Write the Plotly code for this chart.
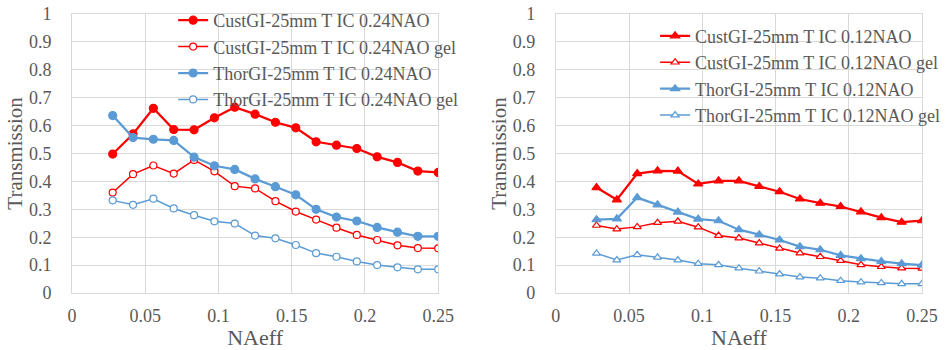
import plotly.graph_objects as go
from plotly.subplots import make_subplots

na_eff = [k * 0.25 / 18 for k in range(2, 19)]

cust_024 = [0.498, 0.570, 0.662, 0.586, 0.585, 0.628, 0.666, 0.641, 0.612, 0.592, 0.542, 0.530, 0.518, 0.488, 0.468, 0.437, 0.432]
cust_024_gel = [0.360, 0.426, 0.457, 0.428, 0.477, 0.436, 0.383, 0.375, 0.329, 0.292, 0.263, 0.234, 0.208, 0.190, 0.171, 0.161, 0.160]
thor_024 = [0.636, 0.557, 0.551, 0.547, 0.487, 0.456, 0.443, 0.409, 0.381, 0.352, 0.300, 0.272, 0.258, 0.235, 0.218, 0.203, 0.203]
thor_024_gel = [0.332, 0.316, 0.338, 0.303, 0.279, 0.257, 0.249, 0.206, 0.196, 0.172, 0.143, 0.130, 0.113, 0.100, 0.092, 0.085, 0.085]

cust_012 = [0.378, 0.334, 0.428, 0.438, 0.437, 0.391, 0.402, 0.402, 0.382, 0.363, 0.337, 0.322, 0.310, 0.291, 0.270, 0.254, 0.259]
cust_012_gel = [0.242, 0.229, 0.237, 0.252, 0.257, 0.236, 0.206, 0.197, 0.179, 0.160, 0.143, 0.130, 0.116, 0.101, 0.094, 0.089, 0.088]
thor_012 = [0.263, 0.266, 0.342, 0.316, 0.290, 0.265, 0.259, 0.227, 0.209, 0.190, 0.166, 0.155, 0.135, 0.123, 0.113, 0.105, 0.100]
thor_012_gel = [0.142, 0.118, 0.137, 0.128, 0.118, 0.105, 0.101, 0.089, 0.078, 0.068, 0.057, 0.053, 0.044, 0.039, 0.036, 0.033, 0.033]

x_ticks = [0, 0.05, 0.1, 0.15, 0.2, 0.25]
x_tick_labels = ["0", "0.05", "0.1", "0.15", "0.2", "0.25"]
y_ticks = [0, 0.1, 0.2, 0.3, 0.4, 0.5, 0.6, 0.7, 0.8, 0.9, 1]
y_tick_labels = ["0", "0.1", "0.2", "0.3", "0.4", "0.5", "0.6", "0.7", "0.8", "0.9", "1"]

RED = "#ff0000"
BLUE = "#5b9bd5"
FONT = "Liberation Serif"
GRAY = "#595959"

fig = make_subplots(rows=1, cols=2, horizontal_spacing=0.1384)

left = [
    ("CustGI-25mm T IC 0.24NAO", cust_024, RED, True),
    ("CustGI-25mm T IC 0.24NAO gel", cust_024_gel, RED, False),
    ("ThorGI-25mm T IC 0.24NAO", thor_024, BLUE, True),
    ("ThorGI-25mm T IC 0.24NAO gel", thor_024_gel, BLUE, False),
]
right = [
    ("CustGI-25mm T IC 0.12NAO", cust_012, RED, True),
    ("CustGI-25mm T IC 0.12NAO gel", cust_012_gel, RED, False),
    ("ThorGI-25mm T IC 0.12NAO", thor_012, BLUE, True),
    ("ThorGI-25mm T IC 0.12NAO gel", thor_012_gel, BLUE, False),
]

for name, ys, col, filled in left:
    fig.add_trace(go.Scatter(
        x=na_eff, y=ys, name=name, mode="lines+markers",
        line=dict(color=col, width=2.25 if filled else 1.5),
        marker=dict(symbol="circle", size=8 if filled else 7,
                    color=col if filled else "white",
                    line=dict(color=col, width=1.2)),
        legend="legend"), row=1, col=1)

for name, ys, col, filled in right:
    fig.add_trace(go.Scatter(
        x=na_eff, y=ys, name=name, mode="lines+markers",
        line=dict(color=col, width=2.25 if filled else 1.5),
        marker=dict(symbol="triangle-up", size=8 if filled else 7,
                    color=col if filled else "white",
                    line=dict(color=col, width=1.2)),
        legend="legend2"), row=1, col=2)

axis_common = dict(
    showgrid=True, gridcolor="#d9d9d9", gridwidth=1,
    showline=True, linecolor="#d9d9d9", mirror=True, zeroline=False,
    tickfont=dict(family=FONT, size=18, color=GRAY),
    automargin=False, ticklabeloverflow="allow",
)

for c in (1, 2):
    fig.update_xaxes(range=[0, 0.25], tickvals=x_ticks, ticktext=x_tick_labels,
                     title=dict(text="NAeff", font=dict(family=FONT, size=22, color=GRAY), standoff=2),
                     ticklabelstandoff=6,
                     **axis_common, row=1, col=c)
    fig.update_yaxes(range=[0, 1], tickvals=y_ticks, ticktext=y_tick_labels,
                     title=dict(text="Transmission", font=dict(family=FONT, size=21, color=GRAY), standoff=0),
                     ticklabelstandoff=16,
                     **axis_common, row=1, col=c)

legend_common = dict(
    font=dict(family=FONT, size=18, color=GRAY),
    bgcolor="rgba(255,255,255,0)", borderwidth=0,
    xanchor="left", yanchor="top", tracegroupgap=0, itemwidth=30,
)

fig.update_layout(
    width=952, height=350,
    margin=dict(l=72, r=30, t=14, b=57, autoexpand=False),
    paper_bgcolor="white", plot_bgcolor="white",
    font=dict(family=FONT, color=GRAY),
    legend=dict(x=0.119, y=1.043, **legend_common),
    legend2=dict(x=0.686, y=0.987, **legend_common),
)

fig.write_html("out.html", config={"displayModeBar": False},
               post_script="document.body.style.margin='0';")
